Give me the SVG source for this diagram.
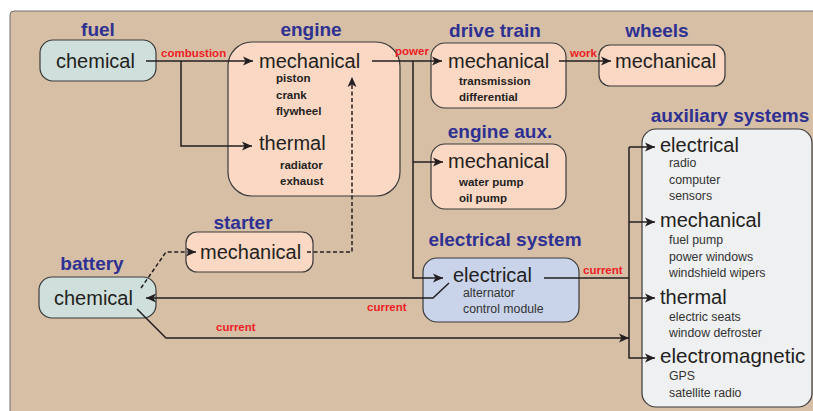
<svg xmlns="http://www.w3.org/2000/svg" width="813" height="411" viewBox="0 0 813 411">
<style>
.title{font-family:"Liberation Sans",Arial,sans-serif;font-weight:bold;font-size:19px;fill:#2e3192;text-anchor:middle}
.main{font-family:"Liberation Sans",Arial,sans-serif;font-size:20px;fill:#231f20}
.subb{font-family:"Liberation Sans",Arial,sans-serif;font-weight:bold;font-size:11.5px;fill:#231f20}
.sub{font-family:"Liberation Sans",Arial,sans-serif;font-size:12.3px;fill:#333333}
.red{font-family:"Liberation Sans",Arial,sans-serif;font-weight:bold;font-size:11.5px;fill:#ed1c24}
.box{stroke:#3a3a3a;stroke-width:1.2}
.green{fill:#cfe0dc}
.peach{fill:#fbd8c4}
.blue{fill:#c9d3ea}
.grey{fill:#eff0f2}
.line{fill:none;stroke:#231f20;stroke-width:1.5}
.dash{fill:none;stroke:#231f20;stroke-width:1.5;stroke-dasharray:4 2.5}
</style>
<defs>
<marker id="arr" viewBox="0 0 10 10" refX="10" refY="5" markerWidth="10" markerHeight="10" markerUnits="userSpaceOnUse" orient="auto">
<path d="M0,0.5 L10,5 L0,9.5 L2.5,5 Z" fill="#231f20"/>
</marker>
</defs>
<rect x="0" y="0" width="813" height="411" fill="#ffffff"/>
<rect x="10" y="11" width="820" height="420" rx="4" fill="#d7bfa6" stroke="#6f6f6f" stroke-width="1"/>

<g id="fuel">
<text class="title" x="98" y="36">fuel</text>
<rect class="box green" x="40" y="40" width="116" height="41" rx="13"/>
<text class="main" x="56" y="68">chemical</text>
</g>

<g id="engine">
<text class="title" x="311" y="36">engine</text>
<rect class="box peach" x="228" y="42" width="172" height="154" rx="24"/>
<text class="main" x="259" y="68">mechanical</text>
<text class="subb" x="276" y="82">piston</text>
<text class="subb" x="276" y="99">crank</text>
<text class="subb" x="276" y="115">flywheel</text>
<text class="main" x="259" y="150">thermal</text>
<text class="subb" x="280" y="169">radiator</text>
<text class="subb" x="280" y="185">exhaust</text>
</g>

<g id="drive-train">
<text class="title" x="495" y="37">drive train</text>
<rect class="box peach" x="431" y="43" width="135" height="65" rx="14"/>
<text class="main" x="448" y="68">mechanical</text>
<text class="subb" x="459" y="85">transmission</text>
<text class="subb" x="459" y="101">differential</text>
</g>

<g id="wheels">
<text class="title" x="657" y="37">wheels</text>
<rect class="box peach" x="599" y="45" width="126" height="41" rx="11"/>
<text class="main" x="615" y="68">mechanical</text>
</g>

<g id="engine-aux">
<text class="title" x="500" y="138">engine aux.</text>
<rect class="box peach" x="431" y="144" width="135" height="65" rx="14"/>
<text class="main" x="448" y="168">mechanical</text>
<text class="subb" x="459" y="186">water pump</text>
<text class="subb" x="459" y="202">oil pump</text>
</g>

<g id="auxiliary-systems">
<text class="title" x="730" y="122">auxiliary systems</text>
<rect class="box grey" x="642" y="129" width="170" height="278" rx="14"/>
<text class="main" x="660" y="152">electrical</text>
<text class="sub" x="669" y="167">radio</text>
<text class="sub" x="669" y="183.5">computer</text>
<text class="sub" x="669" y="200">sensors</text>
<text class="main" x="660" y="227">mechanical</text>
<text class="sub" x="669" y="244">fuel pump</text>
<text class="sub" x="669" y="260.5">power windows</text>
<text class="sub" x="669" y="277">windshield wipers</text>
<text class="main" x="660" y="304">thermal</text>
<text class="sub" x="669" y="320.5">electric seats</text>
<text class="sub" x="669" y="337">window defroster</text>
<text class="main" x="660" y="363" style="font-size:20.6px">electromagnetic</text>
<text class="sub" x="669" y="380">GPS</text>
<text class="sub" x="669" y="397">satellite radio</text>
</g>

<g id="electrical-system">
<text class="title" x="505" y="246">electrical system</text>
<rect class="box blue" x="423" y="258" width="156" height="64" rx="14"/>
<text class="main" x="453" y="282">electrical</text>
<text class="sub" x="463" y="296.5">alternator</text>
<text class="sub" x="463" y="312.5">control module</text>
</g>

<g id="starter">
<text class="title" x="243" y="229">starter</text>
<rect class="box peach" x="186" y="232" width="127" height="40" rx="11"/>
<text class="main" x="200" y="259">mechanical</text>
</g>

<g id="battery">
<text class="title" x="92" y="270">battery</text>
<rect class="box green" x="39" y="277" width="117" height="41" rx="13"/>
<text class="main" x="54" y="305">chemical</text>
</g>

<g id="connectors">
<path class="line" d="M146,61 H253" marker-end="url(#arr)"/>
<path class="line" d="M181,61 V146 H252" marker-end="url(#arr)"/>
<path class="line" d="M372,61 H442" marker-end="url(#arr)"/>
<path class="line" d="M413,61 V278 H443" marker-end="url(#arr)"/>
<path class="line" d="M413,162 H443" marker-end="url(#arr)"/>
<path class="line" d="M559,61 H611" marker-end="url(#arr)"/>
<path class="line" d="M544,278 H629"/>
<path class="line" d="M629,147 H655" marker-end="url(#arr)"/>
<path class="line" d="M629,147 V358 H655" marker-end="url(#arr)"/>
<path class="line" d="M629,222 H655" marker-end="url(#arr)"/>
<path class="line" d="M629,298 H655" marker-end="url(#arr)"/>
<path class="line" d="M449,283 L433,298 H146" marker-end="url(#arr)"/>
<path class="line" d="M137,309 L166,338 H629" marker-end="url(#arr)"/>
<path class="dash" d="M141,288 L166,252 H196" marker-end="url(#arr)"/>
<path class="dash" d="M307,252 H352 V77" marker-end="url(#arr)"/>
<text class="red" x="161" y="57">combustion</text>
<text class="red" x="395" y="55">power</text>
<text class="red" x="570" y="57">work</text>
<text class="red" x="583" y="274">current</text>
<text class="red" x="367" y="311">current</text>
<text class="red" x="216" y="331">current</text>
</g>
</svg>
